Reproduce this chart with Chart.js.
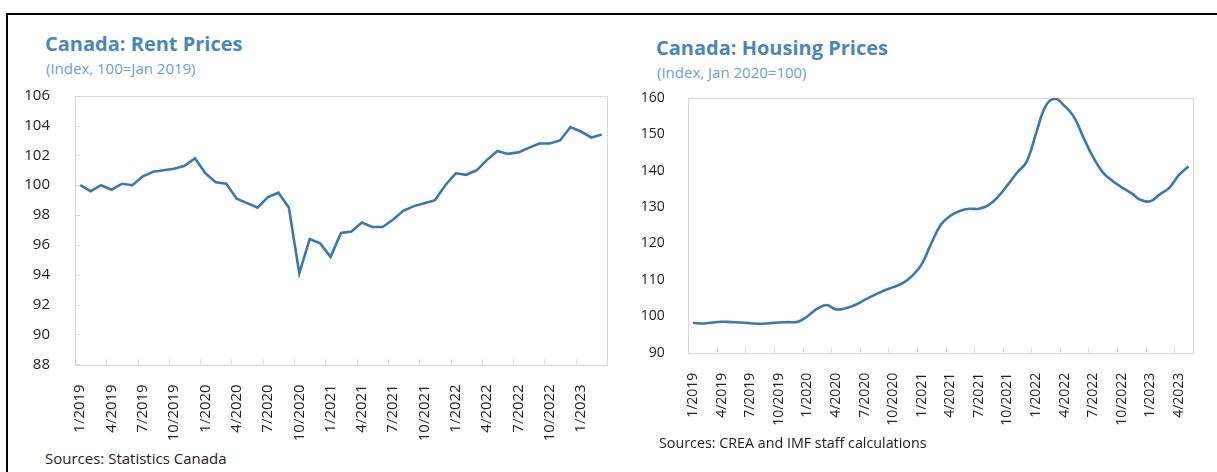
<!DOCTYPE html>
<html>
<head>
<meta charset="utf-8">
<script src="https://cdn.jsdelivr.net/npm/chart.js@4.4.1/dist/chart.umd.min.js"></script>
<style>
  body { margin: 0; width: 1217px; height: 472px; background: #fff; overflow: hidden; position: relative; font-family: "Open Sans", sans-serif; }
  .frame { position: absolute; left: 6px; top: 13px; width: 1215px; height: 470px; border-top: 2px solid #000; border-left: 2px solid #000; }
  .title { position: absolute; font-weight: 700; font-size: 20px; line-height: 20px; color: #4a86bd; white-space: nowrap; }
  .sub { position: absolute; font-size: 15px; line-height: 15px; color: #6a9fd0; white-space: nowrap; }
  .src { position: absolute; font-size: 15px; line-height: 15px; color: #222; white-space: nowrap; }
  .box { position: absolute; }
</style>
</head>
<body>
<div class="frame"></div>

<div class="title" style="left:45px; top:34px;">Canada: Rent Prices</div>
<div class="sub" style="left:46px; top:61px;">(Index, 100=Jan 2019)</div>
<div class="box" style="left:0px; top:80px; width:615px; height:360px;"><canvas id="rent"></canvas></div>
<div class="src" style="left:45px; top:451px;">Sources: Statistics Canada</div>

<div class="title" style="left:656px; top:38px;">Canada: Housing Prices</div>
<div class="sub" style="left:657px; top:65px;">(Index, Jan 2020=100)</div>
<div class="box" style="left:615px; top:80px; width:602px; height:360px;"><canvas id="housing"></canvas></div>
<div class="src" style="left:659px; top:435px; font-size:14.3px;">Sources: CREA and IMF staff calculations</div>

<script>
// colors
const lineBlue = "#3a78b0";
const frameGrey = "#d9d9d9";
const textColor = "#222";

// monthly categories, 1/2019 .. 5/2023
const months = [
  "1/2019", "2/2019", "3/2019", "4/2019", "5/2019", "6/2019", "7/2019", "8/2019", "9/2019", "10/2019", "11/2019", "12/2019",
  "1/2020", "2/2020", "3/2020", "4/2020", "5/2020", "6/2020", "7/2020", "8/2020", "9/2020", "10/2020", "11/2020", "12/2020",
  "1/2021", "2/2021", "3/2021", "4/2021", "5/2021", "6/2021", "7/2021", "8/2021", "9/2021", "10/2021", "11/2021", "12/2021",
  "1/2022", "2/2022", "3/2022", "4/2022", "5/2022", "6/2022", "7/2022", "8/2022", "9/2022", "10/2022", "11/2022", "12/2022",
  "1/2023", "2/2023", "3/2023", "4/2023", "5/2023",
];
const rentMonths = months.slice(0, 51);

// rent index, 100 = Jan 2019
const rentValues = [
  100.0, 99.6, 100.0, 99.7, 100.1, 100.0, 100.6, 100.9, 101.0, 101.1, 101.3, 101.8,
  100.8, 100.2, 100.1, 99.1, 98.8, 98.5, 99.2, 99.5, 98.5, 94.1, 96.4, 96.1,
  95.2, 96.8, 96.9, 97.5, 97.2, 97.2, 97.7, 98.3, 98.6, 98.8, 99.0, 100.0,
  100.8, 100.7, 101.0, 101.7, 102.3, 102.1, 102.2, 102.5, 102.8, 102.8, 103.0, 103.9,
  103.6, 103.2, 103.4,
];

// housing index, Jan 2020 = 100
const housingValues = [
  98.2, 98.0, 98.3, 98.5, 98.4, 98.3, 98.1, 97.9, 98.1, 98.3, 98.4, 98.5,
  100.0, 102.0, 103.1, 101.9, 102.2, 103.1, 104.5, 105.8, 107.0, 108.0, 109.1, 111.1,
  114.3, 120.0, 125.1, 127.6, 128.9, 129.5, 129.5, 130.5, 132.8, 136.0, 139.4, 142.4,
  150.2, 157.7, 159.7, 157.7, 154.6, 148.9, 143.6, 139.5, 137.2, 135.4, 133.8, 131.9,
  131.6, 133.5, 135.3, 138.8, 141.1,
];

// plot box plus small inward tick marks, like the excel original
const frame = {
  id: "frame",
  beforeDatasetsDraw(chart, args, opts) {
    const { ctx, chartArea: a } = chart;
    const x = chart.scales.x;
    const y = chart.scales.y;
    ctx.save();
    ctx.strokeStyle = frameGrey;
    ctx.lineWidth = 1;
    ctx.strokeRect(Math.round(a.left) + 0.5, Math.round(a.top) + 0.5,
      Math.round(a.right - a.left), Math.round(a.bottom - a.top));
    ctx.beginPath();
    for (let i = 3; i < x.ticks.length; i += 3) {
      const px = Math.round((x.getPixelForValue(i - 1) + x.getPixelForValue(i)) / 2) + 0.5;
      ctx.moveTo(px, a.bottom);
      ctx.lineTo(px, a.bottom - 5);
    }
    if (opts.yTicks) {
      y.ticks.forEach((t) => {
        const py = Math.round(y.getPixelForValue(t.value)) + 0.5;
        ctx.moveTo(a.left, py);
        ctx.lineTo(a.left + 5, py);
      });
    }
    ctx.stroke();
    ctx.restore();
  },
};

function makeChart(id, labels, values, o) {
  return new Chart(document.getElementById(id), {
    type: "line",
    data: {
      labels: labels,
      datasets: [
        {
          data: values,
          borderColor: lineBlue,
          borderWidth: 2.6,
          pointRadius: 0,
          fill: false,
          tension: o.tension,
        },
      ],
    },
    options: {
      responsive: true,
      maintainAspectRatio: false,
      animation: false,
      layout: { padding: o.padding },
      scales: {
        x: {
          offset: true,
          grid: { display: false },
          border: { display: false },
          // fixed axis size, no extra label overhang padding
          afterFit: (s) => {
            s.height = o.xHeight;
            s.paddingLeft = 0;
            s.paddingRight = 0;
          },
          ticks: {
            autoSkip: false,
            minRotation: 90,
            maxRotation: 90,
            padding: 12,
            color: textColor,
            font: { family: "Open Sans", size: o.font },
            callback: (v, i) => (i % 3 === 0 ? labels[i] : ""),
          },
        },
        y: {
          min: o.min,
          max: o.max,
          grid: { display: false },
          border: { display: false },
          afterFit: (s) => {
            s.width = o.yWidth;
            s.paddingTop = 0;
            s.paddingBottom = 0;
          },
          ticks: {
            stepSize: o.step,
            padding: o.yPad,
            color: textColor,
            font: { family: "Open Sans", size: o.font },
          },
        },
      },
      plugins: {
        legend: { display: false },
        tooltip: { enabled: false },
        frame: { yTicks: o.yTicks },
      },
    },
    plugins: [frame],
  });
}

makeChart("rent", rentMonths, rentValues, {
  min: 88, max: 106, step: 2, tension: 0,
  padding: { top: 15.7, right: 8, bottom: 0, left: 0 },
  xHeight: 75.7, yWidth: 75, yPad: 17, font: 15, yTicks: true,
});

makeChart("housing", months, housingValues, {
  min: 90, max: 160, step: 10, tension: 0.4,
  padding: { top: 17.7, right: 23.7, bottom: 0, left: 0 },
  xHeight: 87.3, yWidth: 73.3, yPad: 15.6, font: 14, yTicks: false,
});
</script>
</body>
</html>
